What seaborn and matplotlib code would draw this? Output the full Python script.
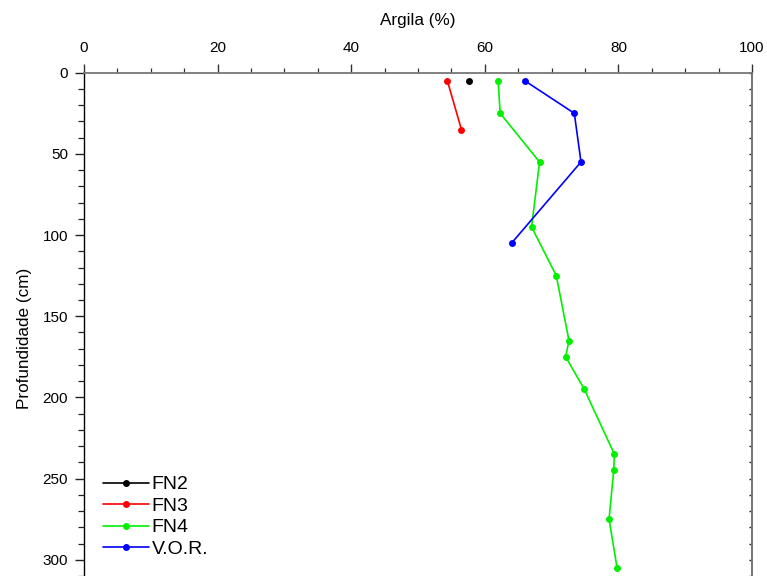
import matplotlib
matplotlib.use("Agg")
import matplotlib.pyplot as plt
from matplotlib.ticker import MultipleLocator
import seaborn as sns
import pandas as pd

sns.set_theme(style="white")
plt.rcParams["font.family"] = ["Liberation Sans", "DejaVu Sans"]
plt.rcParams["text.color"] = "black"
plt.rcParams["axes.labelcolor"] = "black"
plt.rcParams["xtick.color"] = "black"
plt.rcParams["ytick.color"] = "black"

# Clay content (%) by depth (cm) for each profile
fn2_argila = [57.7]
fn2_prof = [5]

fn3_argila = [54.4, 56.5]
fn3_prof = [5, 35]

fn4_argila = [62.0, 62.3, 68.2, 67.0, 70.7, 72.6, 72.1, 74.9, 79.4, 79.3, 78.6, 79.8]
fn4_prof = [5, 25, 55, 95, 125, 165, 175, 195, 235, 245, 275, 305]

vor_argila = [66.0, 73.4, 74.4, 64.0]
vor_prof = [5, 25, 55, 105]

perfis = ["FN2", "FN3", "FN4", "V.O.R."]
cores = ["#000000", "#ff0000", "#00f000", "#0000ff"]

frames = []
for nome, xs, ys in [("FN2", fn2_argila, fn2_prof),
                     ("FN3", fn3_argila, fn3_prof),
                     ("FN4", fn4_argila, fn4_prof),
                     ("V.O.R.", vor_argila, vor_prof)]:
    frames.append(pd.DataFrame({"Argila": xs, "Profundidade": ys, "Perfil": nome}))
df = pd.concat(frames, ignore_index=True)

fig = plt.figure(figsize=(7.67, 5.76), dpi=100)
ax = fig.add_axes([84 / 767, 0.0, 668 / 767, 503.3 / 576])

sns.lineplot(data=df, x="Argila", y="Profundidade", hue="Perfil",
             hue_order=perfis, palette=cores, sort=False, orient="y",
             estimator=None, marker="o", markersize=5, markeredgewidth=0,
             linewidth=1.2, ax=ax)

ax.set_xlim(0, 100)
ax.set_ylim(310, 0)

# x axis on top
ax.xaxis.set_ticks_position("top")
ax.xaxis.set_label_position("top")
ax.xaxis.set_major_locator(MultipleLocator(20))
ax.xaxis.set_minor_locator(MultipleLocator(5))
ax.yaxis.set_major_locator(MultipleLocator(50))
ax.yaxis.set_minor_locator(MultipleLocator(10))

ax.tick_params(axis="x", which="major", direction="out", length=6.5, width=1.0,
               color="#333333", labelsize=11, pad=6, top=True, bottom=False)
ax.tick_params(axis="x", which="minor", direction="out", length=3.5, width=0.9,
               color="#333333", top=True, bottom=False)
ax.tick_params(axis="y", which="major", direction="out", length=6.5, width=1.0,
               color="#222222", labelsize=11, pad=5, left=True, right=False)
ax.tick_params(axis="y", which="minor", direction="out", length=4, width=0.9,
               color="#222222", left=True, right=False)

# small inward ticks on the right spine
sec = ax.secondary_yaxis("right")
sec.yaxis.set_major_locator(MultipleLocator(10))
sec.tick_params(direction="in", length=2, width=1.0, labelright=False, color="#222222")
sec.spines["right"].set_color("#777777")
sec.spines["right"].set_linewidth(1.3)

ax.set_xlabel("Argila (%)", fontsize=12.3, labelpad=12)
ax.set_ylabel("Profundidade (cm)", fontsize=12.3)
ax.yaxis.set_label_coords(-0.078, 0.473)

for side in ["top", "right"]:
    ax.spines[side].set_color("#777777")
    ax.spines[side].set_linewidth(1.3)
ax.spines["left"].set_color("#000000")
ax.spines["left"].set_linewidth(1.0)
ax.spines["bottom"].set_visible(False)

leg = ax.legend(loc="lower left", bbox_to_anchor=(0.028, 0.036), frameon=False,
                fontsize=14, handlelength=2.37, handletextpad=0.15,
                labelspacing=0.2, borderaxespad=0, borderpad=0)
for h in leg.legend_handles:
    h.set_markersize(5)

fig.savefig("out.png", dpi=100)
